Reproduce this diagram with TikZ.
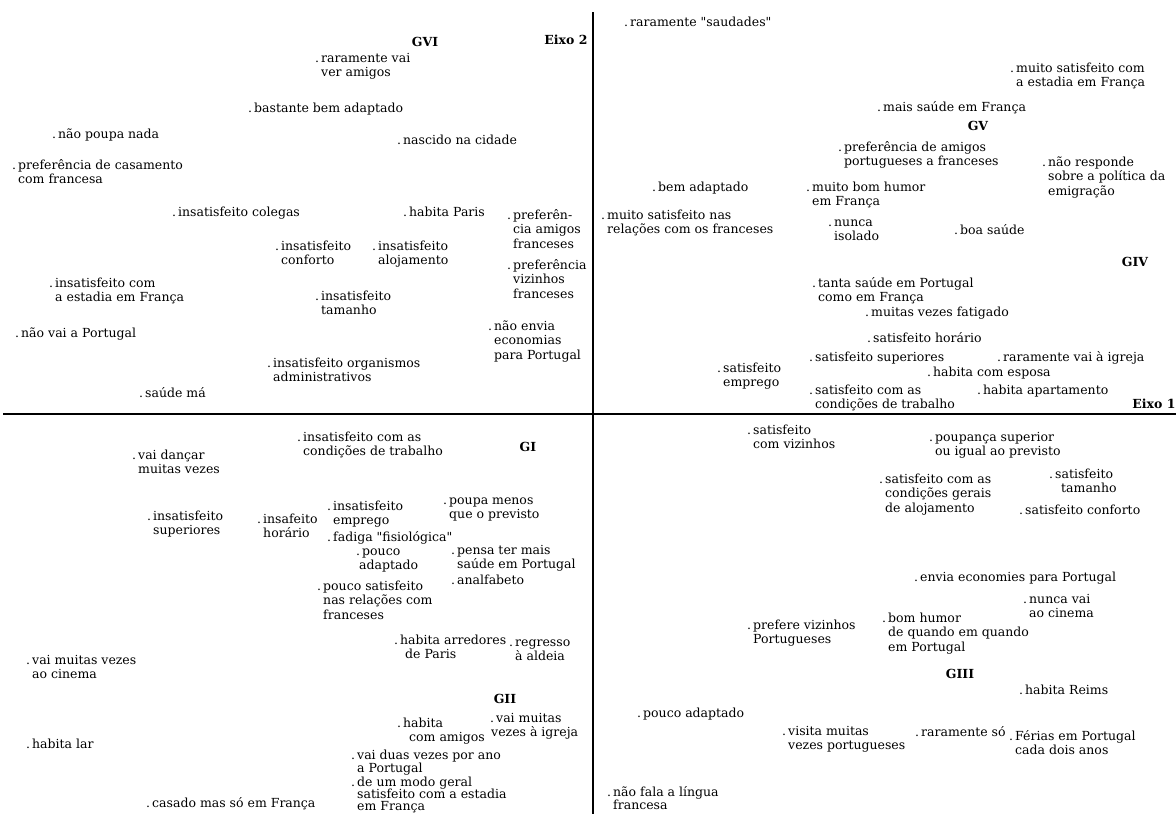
\documentclass[tikz,border=0pt]{standalone}
\usepackage{fontspec}
\setmainfont[Ligatures=TeXOff]{DejaVu Serif}
\usetikzlibrary{positioning}
\newcommand{\pto}{\llap{.\hspace{2pt}}}
\newcommand{\lin}[1]{\begin{tabular}[t]{@{}l@{}}#1\end{tabular}}

\begin{document}
\begin{tikzpicture}[x=1pt,y=-1pt,
    rotulo/.style={anchor=base west,inner sep=0pt,font=\fontsize{12.5}{14.5}\selectfont},
    grupo/.style={inner sep=0pt,font=\fontsize{12.5}{14.5}\selectfont\bfseries}]
\useasboundingbox (0,0) rectangle (1176,814);
% eixos
\coordinate (e2a) at (593,12);
\coordinate (e2b) at (593,814);
\coordinate (e1a) at (3,414);
\coordinate (e1b) at (1176,414);
\draw[line width=1.1pt] (e2a) -- (e2b);
\draw[line width=1.1pt] (e1a) -- (e1b);
\node[grupo] (eixoII) at (566,40) {Eixo 2};
\node[grupo] (eixoI) at (1154,404) {Eixo 1};
% grupos
\node[grupo] (gvi) at (425,42) {GVI};
\node[grupo] (gv) at (978,126) {GV};
\node[grupo] (giv) at (1135,262) {GIV};
\node[grupo] (gi) at (528,447) {GI};
\node[grupo] (gii) at (505,699) {GII};
\node[grupo] (giii) at (960,674) {GIII};
% quadrante superior esquerdo
\node[rotulo] (raravai) at (321,62) {\lin{\pto raramente vai\\ver amigos}};
\node[rotulo] (bastante) at (254,112) {\pto bastante bem adaptado};
\node[rotulo] (naopoupa) at (58,138) {\pto não poupa nada};
\node[rotulo] (nascido) at (403,144) {\pto nascido na cidade};
\node[rotulo] (casamento) at (18,169) {\lin{\pto preferência de casamento\\com francesa}};
\node[rotulo] (colegas) at (178,216) {\pto insatisfeito colegas};
\node[rotulo] (paris) at (409,216) {\pto habita Paris};
\node[rotulo] (amigosfr) at (513,219) {\lin{\pto preferên-\\cia amigos\\franceses}};
\node[rotulo] (conforto) at (281,250) {\lin{\pto insatisfeito\\conforto}};
\node[rotulo] (alojam) at (378,250) {\lin{\pto insatisfeito\\alojamento}};
\node[rotulo] (vizfr) at (513,269) {\lin{\pto preferência\\vizinhos\\franceses}};
\node[rotulo] (estadiaF) at (55,287) {\lin{\pto insatisfeito com\\a estadia em França}};
\node[rotulo] (tamanho) at (321,300) {\lin{\pto insatisfeito\\tamanho}};
\node[rotulo] (naovai) at (21,337) {\pto não vai a Portugal};
\node[rotulo] (naoenvia) at (494,330) {\lin{\pto não envia\\economias\\para Portugal}};
\node[rotulo] (organismos) at (273,367) {\lin{\pto insatisfeito organismos\\administrativos}};
\node[rotulo] (saudema) at (145,397) {\pto saúde má};
% quadrante superior direito
\node[rotulo] (saudades) at (630,26) {\pto raramente "saudades"};
\node[rotulo] (satestadia) at (1016,72) {\lin{\pto muito satisfeito com\\a estadia em França}};
\node[rotulo] (maissaude) at (883,111) {\pto mais saúde em França};
\node[rotulo] (amigospt) at (844,151) {\lin{\pto preferência de amigos\\portugueses a franceses}};
\node[rotulo] (naoresp) at (1048,166) {\lin{\pto não responde\\sobre a política da\\emigração}};
\node[rotulo] (bemadapt) at (658,191) {\pto bem adaptado};
\node[rotulo] (humorF) at (812,191) {\lin{\pto muito bom humor\\em França}};
\node[rotulo] (relfr) at (607,219) {\lin{\pto muito satisfeito nas\\relações com os franceses}};
\node[rotulo] (isolado) at (834,226) {\lin{\pto nunca\\isolado}};
\node[rotulo] (boasaude) at (960,234) {\pto boa saúde};
\node[rotulo] (tantasaude) at (818,287) {\lin{\pto tanta saúde em Portugal\\como em França}};
\node[rotulo] (fatigado) at (871,316) {\pto muitas vezes fatigado};
\node[rotulo] (horario) at (873,342) {\pto satisfeito horário};
\node[rotulo] (emprego) at (723,372) {\lin{\pto satisfeito\\emprego}};
\node[rotulo] (superiores) at (815,361) {\pto satisfeito superiores};
\node[rotulo] (igreja) at (1003,361) {\pto raramente vai à igreja};
\node[rotulo] (esposa) at (933,376) {\pto habita com esposa};
\node[rotulo] (trabalho) at (815,394) {\lin{\pto satisfeito com as\\condições de trabalho}};
\node[rotulo] (apartamento) at (983,394) {\pto habita apartamento};
% quadrante inferior esquerdo
\node[rotulo] (insattrab) at (303,441) {\lin{\pto insatisfeito com as\\condições de trabalho}};
\node[rotulo] (dancar) at (138,459) {\lin{\pto vai dançar\\muitas vezes}};
\node[rotulo] (insatemp) at (333,510) {\lin{\pto insatisfeito\\emprego}};
\node[rotulo] (poupamenos) at (449,504) {\lin{\pto poupa menos\\que o previsto}};
\node[rotulo] (insatsup) at (153,520) {\lin{\pto insatisfeito\\superiores}};
\node[rotulo] (insafeito) at (263,523) {\lin{\pto insafeito\\horário}};
\node[rotulo] (fadiga) at (333,541) {\pto fadiga "fisiológica"};
\node[rotulo] (poucoadapt) at (362,555) {\lin{\pto pouco\\\hspace{-3pt}adaptado}};
\node[rotulo] (pensa) at (457,554) {\lin{\pto pensa ter mais\\saúde em Portugal}};
\node[rotulo] (analfabeto) at (457,584) {\pto analfabeto};
\node[rotulo] (poucosatis) at (323,590) {\lin{\pto pouco satisfeito\\nas relações com\\franceses}};
\node[rotulo] (arredores) at (400,644) {\lin{\pto habita arredores\\\hspace{5pt}de Paris}};
\node[rotulo] (regresso) at (515,646) {\lin{\pto regresso\\à aldeia}};
\node[rotulo] (cinema) at (32,664) {\lin{\pto vai muitas vezes\\ao cinema}};
\node[rotulo] (comamigos) at (403,727) {\lin{\pto habita\\\hspace{6pt}com amigos}};
\node[rotulo] (vaiigreja) at (496,722) {\lin{\pto vai muitas\\\hspace{-5pt}vezes à igreja}};
\node[rotulo] (habitalar) at (32,748) {\pto habita lar};
\node[rotulo] (duasvezes) at (357,759) {\lin{\pto vai duas vezes por ano\\[-1.5pt]a Portugal}};
\node[rotulo] (modogeral) at (357,786) {\lin{\pto de um modo geral\\[-2.5pt]satisfeito com a estadia\\[-2.5pt]em França}};
\node[rotulo] (casado) at (152,807) {\pto casado mas só em França};
% quadrante inferior direito
\node[rotulo] (comviz) at (753,434) {\lin{\pto satisfeito\\com vizinhos}};
\node[rotulo] (poupanca) at (935,441) {\lin{\pto poupança superior\\ou igual ao previsto}};
\node[rotulo] (condger) at (885,483) {\lin{\pto satisfeito com as\\condições gerais\\de alojamento}};
\node[rotulo] (sattam) at (1055,478) {\lin{\pto satisfeito\\\hspace{6pt}tamanho}};
\node[rotulo] (satconf) at (1025,514) {\pto satisfeito conforto};
\node[rotulo] (envia) at (920,581) {\pto envia economies para Portugal};
\node[rotulo] (nuncacine) at (1029,603) {\lin{\pto nunca vai\\ao cinema}};
\node[rotulo] (prefviz) at (753,629) {\lin{\pto prefere vizinhos\\Portugueses}};
\node[rotulo] (humorPt) at (888,622) {\lin{\pto bom humor\\de quando em quando\\em Portugal}};
\node[rotulo] (reims) at (1025,694) {\pto habita Reims};
\node[rotulo] (poucoad) at (643,717) {\pto pouco adaptado};
\node[rotulo] (visita) at (788,735) {\lin{\pto visita muitas\\vezes portugueses}};
\node[rotulo] (rarsol) at (921,736) {\pto raramente só};
\node[rotulo] (ferias) at (1015,740) {\lin{\pto Férias em Portugal\\cada dois anos}};
\node[rotulo] (naofala) at (613,796) {\lin{\pto não fala a língua\\[-1pt]francesa}};
\end{tikzpicture}
\end{document}
